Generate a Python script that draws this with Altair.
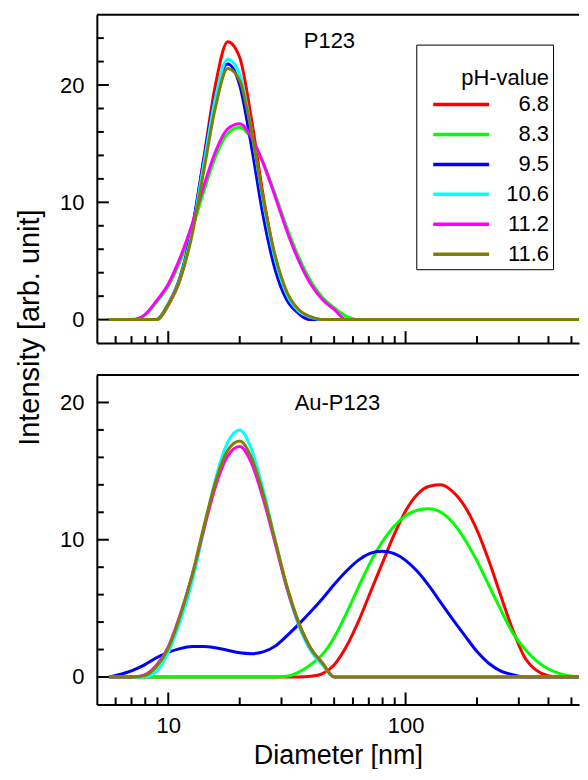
import altair as alt
import pandas as pd

# ---------------- data ----------------
DIAMETER = [5.62, 6.31, 7.08, 7.94, 8.91, 10.0, 11.2, 12.6, 14.1, 15.8,
            17.8, 20.0, 22.4, 25.1, 28.2, 31.6, 35.5, 39.8, 44.7, 50.1,
            56.2, 63.1, 70.8, 79.4, 89.1, 100, 112, 126, 141, 158,
            178, 200, 224, 251, 282, 316, 355, 398, 447, 501,
            562, 631]

PH = ["6.8", "8.3", "9.5", "10.6", "11.2", "11.6"]
COLORS = ["#ff0000", "#00ff00", "#0000ff", "#00ffff", "#ff00ff", "#808000"]

Z = [0]
# P123 panel
P123_68 = Z * 5 + [1.22, 3.39, 7.59, 13.71, 20.0, 23.7, 22.35, 17.13, 10.60, 5.30, 2.13, 0.5] + Z * 25
P123_83 = Z * 3 + [0.35, 1.48, 2.85, 4.95, 7.74, 10.91, 13.86, 15.86, 16.4, 15.44, 13.40, 10.69,
                   7.85, 5.30, 3.29, 1.88, 0.99, 0.3] + Z * 21
P123_95 = Z * 5 + [1.34, 3.60, 7.79, 13.59, 19.15, 21.8, 19.99, 14.81, 8.85, 4.27, 1.66, 0.52] + Z * 25
P123_106 = Z * 5 + [1.30, 3.47, 7.51, 13.22, 18.94, 22.2, 20.91, 16.12, 10.11, 5.15, 2.14, 0.72, 0.2] + Z * 24
P123_112 = Z * 3 + [0.4, 1.59, 3.04, 5.24, 8.13, 11.36, 14.31, 16.26, 16.7, 15.56, 13.34, 10.49,
                    7.56, 5.00, 3.03, 1.69, 0.86] + Z * 22
P123_116 = Z * 5 + [1.30, 3.39, 7.23, 12.63, 18.09, 21.4, 20.38, 16.05, 10.35, 5.47, 2.37, 0.84, 0.25] + Z * 24

# Au-P123 panel
AU_68 = Z * 17 + [0.05, 0.25, 0.9, 2.2, 4.0, 6.1, 8.2, 10.3, 12.1, 13.3, 13.9, 14.0, 13.5, 12.4,
                  10.7, 8.5, 6.0, 3.5, 1.5, 0.5, 0.1] + Z * 4
AU_83 = Z * 15 + [0.05, 0.35, 0.9, 1.65, 2.9, 4.6, 6.5, 8.3, 9.8, 10.95, 11.75, 12.15, 12.25, 12.0,
                  11.25, 10.0, 8.45, 6.7, 4.95, 3.25, 2.1, 1.2, 0.6, 0.25, 0.05] + Z * 2
AU_95 = [0, 0.2, 0.48, 0.88, 1.40, 1.80, 2.07, 2.22, 2.23, 2.13, 1.95, 1.76, 1.70, 1.83, 2.25,
         3.0, 3.85, 4.75, 5.72, 6.75, 7.7, 8.5, 9.0, 9.17, 9.0, 8.5, 7.7, 6.6, 5.4, 4.2, 3.0,
         1.85, 1.0, 0.45, 0.17] + Z * 7
AU_106 = Z * 4 + [0.4, 1.8, 3.98, 6.93, 10.64, 14.38, 17.10, 18.0, 16.60, 13.66, 9.98, 6.47, 3.73,
                  1.91, 0.87] + Z * 23
AU_112 = Z * 3 + [0.15, 0.85, 2.2, 4.5, 7.4, 10.7, 13.85, 16.1, 16.8, 15.6, 13.0, 9.75, 6.5, 3.9,
                  2.1, 1.0] + Z * 23
AU_116 = Z * 3 + [0.1, 0.75, 2.1, 4.4, 7.4, 10.92, 14.19, 16.51, 17.2, 16.00, 13.34, 9.95, 6.64,
                  3.96, 2.12, 1.01] + Z * 23

Y_MAJOR = [0, 10, 20]
Y_MINOR_TOP = [2, 4, 6, 8, 12, 14, 16, 18, 22, 24]
Y_MINOR_BOTTOM = [2, 4, 6, 8, 12, 14, 16, 18]
X_MAJOR = [10, 100]
X_MINOR = [6, 7, 8, 9, 20, 30, 40, 50, 60, 70, 80, 90, 200, 300, 400, 500]

FONT = "Liberation Sans"
W = 483
H_TOP = 329
H_BOT = 330


def long_table(series):
    rows = []
    for k, (ph, vals) in enumerate(zip(PH, series)):
        for d, v in zip(DIAMETER, vals):
            rows.append({"d": d, "v": v, "ph": ph, "k": k})
    return pd.DataFrame(rows)


top_df = long_table([P123_68, P123_83, P123_95, P123_106, P123_112, P123_116])
bot_df = long_table([AU_68, AU_83, AU_95, AU_106, AU_112, AU_116])

x_scale = alt.Scale(type="log", domain=[5, 538], nice=False)


def panel(df, ydom, height, minor_y, label, label_pos, show_legend, bottom):
    y_axis = alt.Axis(values=Y_MAJOR, ticks=False, domain=True, domainColor="black",
                      domainWidth=2, grid=False,
                      labelFontSize=22, labelPadding=13,
                      title="Intensity [arb. unit]" if not bottom else "",
                      titleFontSize=29, titleFontWeight="normal",
                      titleX=-67, titleY=313, titleAngle=270,
                      titleAlign="center", titleBaseline="middle")
    if bottom:
        x_axis = alt.Axis(values=X_MAJOR, format="d", ticks=False, domain=True,
                          domainColor="black", domainWidth=2, grid=False,
                          labelFontSize=22, labelPadding=11,
                          title="Diameter [nm]", titleFontSize=27,
                          titleFontWeight="normal", titlePadding=6)
    else:
        x_axis = alt.Axis(values=X_MAJOR, labels=False, ticks=False, domain=True,
                          domainColor="black", domainWidth=2, grid=False, title="")
    if show_legend:
        legend = alt.Legend(title=[" ", "pH-value"], titleLineHeight=19,
                            orient="none", legendX=320, legendY=30,
                            strokeColor="black", fillColor="white", padding=4,
                            symbolType="stroke", symbolSize=3136, symbolStrokeWidth=3.5,
                            symbolOffset=11, clipHeight=22, rowPadding=8,
                            labelFontSize=22, titleFontSize=22, titleFontWeight="normal",
                            labelAlign="right", labelOffset=58, titlePadding=4,
                            titleAnchor="end", titleAlign="right")
    else:
        legend = None

    lines = alt.Chart(df).mark_line(strokeWidth=3, interpolate="monotone", clip=True).encode(
        x=alt.X("d:Q", scale=x_scale, axis=x_axis),
        y=alt.Y("v:Q", scale=alt.Scale(domain=ydom, nice=False, zero=False), axis=y_axis),
        color=alt.Color("ph:N", scale=alt.Scale(domain=PH, range=COLORS), legend=legend),
        detail="k:O",
    )
    top_edge = alt.Chart(pd.DataFrame({"edge": ["top"]})).mark_rule(
        color="black", strokeWidth=2).encode(
        x=alt.value(0), x2=alt.value(W), y=alt.value(0))
    ymaj = alt.Chart(pd.DataFrame({"v": Y_MAJOR})).mark_rule(color="black", strokeWidth=2).encode(
        y="v:Q", x=alt.value(0), x2=alt.value(12))
    ymin = alt.Chart(pd.DataFrame({"v": minor_y})).mark_rule(color="black", strokeWidth=2).encode(
        y="v:Q", x=alt.value(0), x2=alt.value(7))
    xmaj = alt.Chart(pd.DataFrame({"d": X_MAJOR})).mark_rule(color="black", strokeWidth=2).encode(
        x="d:Q", y=alt.value(height), y2=alt.value(height - 12))
    xmin = alt.Chart(pd.DataFrame({"d": X_MINOR})).mark_rule(color="black", strokeWidth=2).encode(
        x="d:Q", y=alt.value(height), y2=alt.value(height - 7))
    txt = alt.Chart(pd.DataFrame({"label": [label]})).mark_text(
        font=FONT, fontSize=22, color="black", align="center", baseline="middle").encode(
        text="label:N", x=alt.value(label_pos[0]), y=alt.value(label_pos[1]))
    return alt.layer(lines, top_edge, ymaj, ymin, xmaj, xmin, txt).properties(width=W, height=height)


top = panel(top_df, [-2, 26], H_TOP, Y_MINOR_TOP, "P123", (233, 26), True, False)
bot = panel(bot_df, [-2, 22], H_BOT, Y_MINOR_BOTTOM, "Au-P123", (241, 28), False, True)

chart = alt.vconcat(top, bot, spacing=32, bounds="flush").resolve_scale(
    color="independent", x="independent", y="independent"
).resolve_legend(color="independent").properties(
    padding={"left": 8, "top": 5, "right": 0, "bottom": 0}
).configure_view(stroke=None).configure_axis(
    labelFont=FONT, titleFont=FONT, labelColor="black", titleColor="black"
).configure_legend(labelFont=FONT, titleFont=FONT, labelColor="black", titleColor="black")

chart.save("out.html", embed_options={"renderer": "svg", "actions": False})
